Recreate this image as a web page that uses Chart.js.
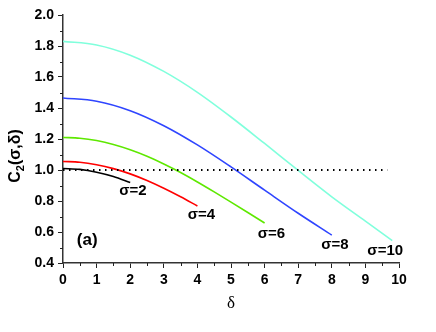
<!DOCTYPE html>
<html>
<head>
<meta charset="utf-8">
<script src="https://cdn.jsdelivr.net/npm/chart.js@4/dist/chart.umd.min.js"></script>
<style>
html,body{margin:0;padding:0;background:#fff;}
#wrap{width:436px;height:332px;}
</style>
</head>
<body>
<div id="wrap"><canvas id="c" width="436" height="332"></canvas></div>
<script>
// ---- data ----
const delta2 = [0, 0.5, 1, 1.5, 2];
const c2Sigma2 = [1.010, 1.004, 0.986, 0.958, 0.919];

const delta4 = [0, 0.5, 1, 1.5, 2, 2.5, 3, 3.5, 4];
const c2Sigma4 = [1.055, 1.050, 1.034, 1.009, 0.975, 0.932, 0.882, 0.827, 0.768];

const delta6 = [0, 0.5, 1, 1.5, 2, 2.5, 3, 3.5, 4, 4.5, 5, 5.5, 6];
const c2Sigma6 = [1.210, 1.205, 1.190, 1.165, 1.131, 1.089, 1.039, 0.984, 0.923, 0.859, 0.793, 0.726, 0.658];

const delta8 = [0, 1, 2, 3, 4, 5, 6, 7, 8];
const c2Sigma8 = [1.465, 1.444, 1.383, 1.286, 1.162, 1.020, 0.870, 0.721, 0.580];

const delta10 = [0, 1, 2, 3, 4, 5, 6, 7, 8, 9, 9.8];
const c2Sigma10 = [1.830, 1.807, 1.741, 1.636, 1.501, 1.342, 1.171, 0.997, 0.827, 0.670, 0.545];

const refDelta = [0, 9.65];
const refC2 = [1.0, 1.0];

const xTicks = [0, 1, 2, 3, 4, 5, 6, 7, 8, 9, 10];
const yTicks = [0.4, 0.6, 0.8, 1.0, 1.2, 1.4, 1.6, 1.8, 2.0];

const curveLabels = ['σ=2', 'σ=4', 'σ=6', 'σ=8', 'σ=10'];
const labelDelta = [2.08, 4.12, 6.2, 8.09, 9.59];
const labelC2 = [0.865, 0.712, 0.59, 0.52, 0.48];
const panelLabel = '(a)';
const panelDelta = 0.72, panelC2 = 0.545;

// ---- build ----
function pts(xs, ys) { return xs.map((x, i) => ({ x: x, y: ys[i] })); }
function line(xs, ys, color) {
  return { data: pts(xs, ys), borderColor: color, borderWidth: 1.6, pointRadius: 0,
           fill: false, cubicInterpolationMode: 'monotone' };
}

const extras = {
  id: 'extras',
  afterDraw(chart) {
    const ctx = chart.ctx, xs = chart.scales.x, ys = chart.scales.y;
    const ca = chart.chartArea;
    ctx.save();
    // minor ticks
    ctx.strokeStyle = '#222';
    ctx.lineWidth = 1;
    for (let v = 0.5; v < 10; v += 1) {
      const px = Math.round(xs.getPixelForValue(v)) + 0.5;
      ctx.beginPath(); ctx.moveTo(px, ca.bottom); ctx.lineTo(px, ca.bottom + 3); ctx.stroke();
    }
    for (let v = 0.5; v < 2.0; v += 0.2) {
      const py = Math.round(ys.getPixelForValue(v)) + 0.5;
      ctx.beginPath(); ctx.moveTo(ca.left, py); ctx.lineTo(ca.left - 3, py); ctx.stroke();
    }
    ctx.fillStyle = '#000';
    // curve labels
    ctx.font = 'bold 15px "Liberation Sans", Arial, sans-serif';
    ctx.textAlign = 'center'; ctx.textBaseline = 'middle';
    curveLabels.forEach((t, i) => {
      ctx.fillText(t, xs.getPixelForValue(labelDelta[i]), ys.getPixelForValue(labelC2[i]));
    });
    ctx.font = 'bold 17px "Liberation Sans", Arial, sans-serif';
    ctx.fillText(panelLabel, xs.getPixelForValue(panelDelta), ys.getPixelForValue(panelC2));
    // x title
    ctx.font = '17px "Liberation Serif", "Times New Roman", serif';
    ctx.fillText('δ', (ca.left + ca.right) / 2, 304);
    // y title with subscript
    ctx.translate(16, 156);
    ctx.rotate(-Math.PI / 2);
    ctx.textAlign = 'left'; ctx.textBaseline = 'middle';
    const big = 'bold 16px "Liberation Sans", Arial, sans-serif';
    const small = 'bold 11px "Liberation Sans", Arial, sans-serif';
    ctx.font = big; const wC = ctx.measureText('C').width;
    ctx.font = small; const w2 = ctx.measureText('2').width;
    ctx.font = big; const wR = ctx.measureText('(σ,δ)').width;
    let x0 = -(wC + w2 + wR) / 2;
    ctx.fillText('C', x0, 0);
    ctx.font = small; ctx.fillText('2', x0 + wC, 5);
    ctx.font = big; ctx.fillText('(σ,δ)', x0 + wC + w2, 0);
    ctx.restore();
  }
};

new Chart(document.getElementById('c'), {
  type: 'line',
  data: {
    datasets: [
      Object.assign(line(refDelta, refC2, '#000'), { borderDash: [1.5, 4.5], borderWidth: 1.8, cubicInterpolationMode: 'default' }),
      line(delta2, c2Sigma2, '#000000'),
      line(delta4, c2Sigma4, '#ff0000'),
      line(delta6, c2Sigma6, '#5ee800'),
      line(delta8, c2Sigma8, '#2f45ff'),
      line(delta10, c2Sigma10, '#80ffdc')
    ]
  },
  options: {
    responsive: false,
    animation: false,
    devicePixelRatio: 1,
    layout: { padding: { left: 0, right: 37, top: 15, bottom: 0 } },
    plugins: { legend: { display: false }, tooltip: { enabled: false }, title: { display: false } },
    scales: {
      x: {
        type: 'linear', min: 0, max: 10,
        afterBuildTicks: s => { s.ticks = xTicks.map(v => ({ value: v })); },
        afterFit: s => { s.height = 69; },
        grid: { drawOnChartArea: false, drawTicks: true, tickLength: 5, color: '#222', tickWidth: 1 },
        border: { display: true, color: '#333', width: 1.5 },
        ticks: { color: '#000', padding: 4, maxRotation: 0,
                 font: { family: '"Liberation Sans", Arial, sans-serif', size: 14, weight: 'bold' },
                 callback: v => String(v) }
      },
      y: {
        type: 'linear', min: 0.4, max: 2.0,
        afterBuildTicks: s => { s.ticks = yTicks.map(v => ({ value: v })); },
        afterFit: s => { s.width = 63; },
        grid: { drawOnChartArea: false, drawTicks: true, tickLength: 5, color: '#222', tickWidth: 1 },
        border: { display: true, color: '#333', width: 1.5 },
        ticks: { color: '#000', padding: 4,
                 font: { family: '"Liberation Sans", Arial, sans-serif', size: 14, weight: 'bold' },
                 callback: v => Number(v).toFixed(1) }
      }
    }
  },
  plugins: [extras]
});
</script>
</body>
</html>
